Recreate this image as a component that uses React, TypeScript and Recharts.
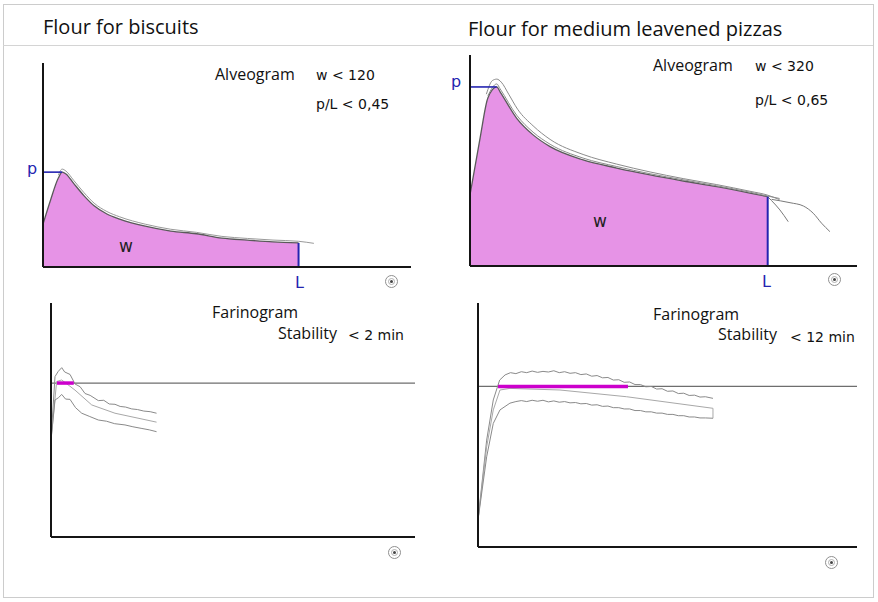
import React from "react";
import { ComposedChart, Area, Line, XAxis, YAxis, ReferenceLine } from "recharts";

// ---- Alveogram, flour for biscuits (x: mm, y: mm H2O) ----
const biscuitX = [0, 3, 6, 7.5, 9, 12, 16, 20, 25, 30, 40, 50, 60, 70, 80, 90, 100];
const biscuitCurve = [21, 33, 43.6, 46.5, 45.6, 41, 35, 30, 26, 23.5, 20, 17.6, 16.3, 14.2, 13.2, 12.3, 11.8];
const biscuitOuterX = [6, 7.5, 9, 12, 16, 20, 25, 30, 40, 50, 60, 70, 80, 90, 100, 106];
const biscuitOuter = [45, 48, 47, 42.5, 36.5, 31.3, 27.2, 24.6, 21, 18.5, 17, 15, 14, 13.2, 12.6, 11.6];
const biscuitP = 46.5;
const biscuitL = 100;

// ---- Alveogram, flour for medium leavened pizzas ----
const pizzaX = [0, 3.4, 6, 9, 10.1, 15.7, 21.2, 26.9, 38, 49.3, 60.5, 71.6, 82.9, 94, 100];
const pizzaCurve = [23.6, 42.5, 55.7, 59.4, 57.8, 49, 43.5, 39.6, 35.2, 32.5, 30.2, 28.2, 26.3, 24.2, 23];
const pizzaMidX = [6, 9, 10.1, 15.7, 21.2, 26.9, 38, 49.3, 60.5, 71.6, 82.9, 94, 100, 104];
const pizzaMid = [56.5, 60.4, 58.8, 50, 44.4, 40.4, 35.8, 33, 30.6, 28.6, 26.6, 24.5, 23.2, 22.4];
const pizzaOuterX = [5.5, 7.5, 9, 10.5, 13, 16, 21.2, 26.9, 38, 49.3, 60.5, 71.6, 82.9, 94, 100, 104];
const pizzaOuter = [57, 61.5, 62, 61, 57, 52, 46.5, 42, 37, 33.8, 31.2, 29, 27, 24.8, 23.5, 22];
const pizzaTail1X = [100, 101.3, 104.1, 106.9];
const pizzaTail1 = [23, 21.7, 18.6, 14.7];
const pizzaTail2X = [101.3, 107.5, 112, 115.3, 118.1, 120.9];
const pizzaTail2 = [22.1, 21, 19.9, 17.5, 14.2, 11.4];
const pizzaP = 59.4;
const pizzaL = 100;

// ---- Farinogram, biscuits (x: min, y: FU) ----
const farBisUpX = [0, 0.44, 0.8, 1.18, 1.5, 2.09, 2.64, 3.2, 3.74, 4.3, 5.2, 5.8, 6.4, 7.03, 7.6, 8.2, 8.87, 9.5, 10.2, 10.9, 11.6];
const farBisUp = [315, 521, 538, 550, 536, 528, 497, 488, 466, 460, 443, 444, 432, 431, 424, 422, 416, 414, 409, 407, 402];
const farBisMidX = [0, 0.62, 1.18, 2.64, 4.47, 7.03, 11.6];
const farBisMid = [315, 505, 510, 477, 429, 402, 373];
const farBisLowX = [0, 0.44, 0.8, 1.18, 1.6, 2.09, 2.7, 3.38, 4.2, 5.2, 6.1, 7.0, 8.13, 9.0, 9.9, 10.8, 11.6];
const farBisLow = [315, 445, 452, 463, 448, 447, 420, 402, 392, 380, 376, 368, 364, 358, 353, 348, 342];
const farBisStab = [0.66, 2.5];

// ---- Farinogram, pizzas ----
const farPizUpX = [0, 0.8, 1.41, 2.0, 2.5, 3.0, 3.5, 4.0, 4.5, 5.0, 5.5, 6.0, 6.5, 7.0, 7.5, 8.0, 8.5, 9.0, 9.5, 10, 10.5, 11, 11.5, 12, 12.5, 13, 13.5, 14, 14.5, 15, 15.5, 16, 16.5, 17, 17.5, 18, 18.5, 19, 19.5, 20, 20.5, 21, 21.7];
const farPizUp = [84, 333, 458, 520, 536, 543, 540, 546, 543, 548, 544, 547, 545, 549, 543, 546, 541, 543, 537, 539, 532, 534, 527, 528, 520, 521, 513, 514, 506, 506, 499, 500, 492, 493, 485, 486, 478, 479, 472, 473, 467, 468, 463];
const farPizMidX = [0, 0.8, 1.41, 2.03, 2.95, 7.57, 13.73, 21.7, 21.7];
const farPizMid = [84, 312, 427, 489, 494, 489, 468, 432, 401];
const farPizLowX = [0, 0.8, 1.41, 2.03, 2.95, 3.5, 4, 4.5, 5, 5.5, 6, 6.5, 7, 7.5, 8, 8.5, 9, 9.5, 10, 10.5, 11, 11.5, 12, 12.5, 13, 13.5, 14, 14.5, 15, 15.5, 16, 16.5, 17, 17.5, 18, 18.5, 19, 19.5, 20, 20.5, 21, 21.7];
const farPizLow = [84, 281, 385, 427, 448, 453, 456, 453, 457, 454, 457, 452, 455, 451, 453, 449, 450, 446, 447, 442, 443, 438, 439, 434, 434, 430, 430, 425, 425, 421, 421, 417, 417, 413, 413, 409, 409, 405, 405, 402, 402, 401];
const farPizStab = [1.85, 13.85];

const CONSISTENCY = 500;

const rows = (xs: number[], ys: number[]) => xs.map((x, i) => ({ x, y: ys[i] }));

const PINK = "#E693E6";
const BLUE = "#2424B0";
const MAGENTA = "#CC00CC";
const AXIS = "#151515";
const W = 878;
const H = 602;

function Layer({ children }: { children: React.ReactNode }) {
  return <div style={{ position: "absolute", left: 0, top: 0 }}>{children}</div>;
}

function Txt({ x, y, size, font, color, children }: any) {
  return (
    <div
      style={{
        position: "absolute",
        left: x,
        top: y,
        fontSize: size,
        lineHeight: 1,
        fontFamily: font || "'Open Sans', sans-serif",
        color: color || "#111",
        whiteSpace: "nowrap",
      }}
    >
      {children}
    </div>
  );
}

function Logo({ x, y }: { x: number; y: number }) {
  return (
    <div
      style={{
        position: "absolute",
        left: x - 7,
        top: y - 7,
        width: 13,
        height: 13,
        borderRadius: "50%",
        border: "1px solid #909090",
        boxSizing: "border-box",
        display: "flex",
        alignItems: "center",
        justifyContent: "center",
      }}
    >
      <div
        style={{
          width: 7,
          height: 7,
          borderRadius: "50%",
          border: "1px solid #b0b0b0",
          boxSizing: "border-box",
          display: "flex",
          alignItems: "center",
          justifyContent: "center",
        }}
      >
        <div style={{ width: 3, height: 3, borderRadius: "50%", background: "#444" }} />
      </div>
    </div>
  );
}

function Alveogram({ margin, xMax, yMax, xs, curve, lines, p, L }: any) {
  const data = rows(xs, curve);
  return (
    <Layer>
      <ComposedChart width={W} height={H} data={data} margin={margin}>
        <XAxis type="number" dataKey="x" domain={[0, xMax]} hide />
        <YAxis type="number" domain={[0, yMax]} hide />
        <Area
          type="monotone"
          dataKey="y"
          fill={PINK}
          fillOpacity={1}
          stroke="#5a5a5a"
          strokeWidth={1.3}
          isAnimationActive={false}
        />
        {lines.map((l: any, i: number) => (
          <Line
            key={i}
            data={l.data}
            type="monotone"
            dataKey="y"
            stroke={l.color}
            strokeWidth={1}
            dot={false}
            isAnimationActive={false}
          />
        ))}
        <ReferenceLine segment={[{ x: 0, y: p.y }, { x: p.x, y: p.y }]} stroke={BLUE} strokeWidth={1.6} />
        <ReferenceLine segment={[{ x: L.x, y: 0 }, { x: L.x, y: L.y }]} stroke={BLUE} strokeWidth={2} />
        <ReferenceLine x={0} stroke={AXIS} strokeWidth={2} />
        <ReferenceLine y={0} stroke={AXIS} strokeWidth={2} />
      </ComposedChart>
    </Layer>
  );
}

function Farinogram({ margin, xMax, yMax, up, mid, low, stab }: any) {
  return (
    <Layer>
      <ComposedChart width={W} height={H} data={mid} margin={margin}>
        <XAxis type="number" dataKey="x" domain={[0, xMax]} hide />
        <YAxis type="number" domain={[0, yMax]} hide />
        <ReferenceLine y={CONSISTENCY} stroke="#6e6e6e" strokeWidth={1.2} />
        <Line data={up} type="linear" dataKey="y" stroke="#8a8a8a" strokeWidth={1} dot={false} isAnimationActive={false} />
        <Line type="linear" dataKey="y" stroke="#a8a8a8" strokeWidth={1} dot={false} isAnimationActive={false} />
        <Line data={low} type="linear" dataKey="y" stroke="#8a8a8a" strokeWidth={1} dot={false} isAnimationActive={false} />
        <ReferenceLine
          segment={[{ x: stab[0], y: CONSISTENCY }, { x: stab[1], y: CONSISTENCY }]}
          stroke={MAGENTA}
          strokeWidth={3.5}
        />
        <ReferenceLine x={0} stroke={AXIS} strokeWidth={2} />
        <ReferenceLine y={0} stroke={AXIS} strokeWidth={2} />
      </ComposedChart>
    </Layer>
  );
}

export default function App() {
  const small = "'DejaVu Sans', sans-serif";
  return (
    <div style={{ position: "absolute", left: 0, top: 0, width: W, height: H, background: "#fff", overflow: "hidden" }}>
      <div style={{ position: "absolute", left: 3, top: 4, width: 869, height: 592, border: "1px solid #cccccc" }} />
      <div style={{ position: "absolute", left: 3, top: 45, width: 870, height: 1, background: "#d4d4d4" }} />

      <Txt x={43} y={17} size={20}>Flour for biscuits</Txt>
      <Txt x={468} y={19} size={20}>Flour for medium leavened pizzas</Txt>

      <Alveogram
        margin={{ top: 63, left: 43, right: W - 411, bottom: H - 267 }}
        xMax={144}
        yMax={100}
        xs={biscuitX}
        curve={biscuitCurve}
        lines={[{ data: rows(biscuitOuterX, biscuitOuter), color: "#9a9a9a" }]}
        p={{ x: 7.5, y: biscuitP }}
        L={{ x: biscuitL, y: biscuitCurve[biscuitCurve.length - 1] }}
      />
      <Alveogram
        margin={{ top: 55, left: 470, right: W - 857, bottom: H - 266 }}
        xMax={130}
        yMax={70}
        xs={pizzaX}
        curve={pizzaCurve}
        lines={[
          { data: rows(pizzaMidX, pizzaMid), color: "#8c8c8c" },
          { data: rows(pizzaOuterX, pizzaOuter), color: "#8c8c8c" },
          { data: rows(pizzaTail1X, pizzaTail1), color: "#7a7a7a" },
          { data: rows(pizzaTail2X, pizzaTail2), color: "#7a7a7a" },
        ]}
        p={{ x: 9, y: pizzaP }}
        L={{ x: pizzaL, y: pizzaCurve[pizzaCurve.length - 1] }}
      />
      <Farinogram
        margin={{ top: 303, left: 51, right: W - 415, bottom: H - 537 }}
        xMax={40}
        yMax={760}
        up={rows(farBisUpX, farBisUp)}
        mid={rows(farBisMidX, farBisMid)}
        low={rows(farBisLowX, farBisLow)}
        stab={farBisStab}
      />
      <Farinogram
        margin={{ top: 303, left: 478, right: W - 857, bottom: H - 547 }}
        xMax={35}
        yMax={760}
        up={rows(farPizUpX, farPizUp)}
        mid={rows(farPizMidX, farPizMid)}
        low={rows(farPizLowX, farPizLow)}
        stab={farPizStab}
      />

      {/* top-left labels */}
      <Txt x={215} y={66} size={16}>Alveogram</Txt>
      <Txt x={316} y={68} size={14} font={small}>w &lt; 120</Txt>
      <Txt x={316} y={97} size={14} font={small}>p/L &lt; 0,45</Txt>
      <Txt x={27} y={161} size={16} font={small} color={BLUE}>p</Txt>
      <Txt x={295} y={275} size={16} font={small} color={BLUE}>L</Txt>
      <Txt x={119} y={238} size={17} font={small} color="#222">w</Txt>

      {/* top-right labels */}
      <Txt x={653} y={57} size={16}>Alveogram</Txt>
      <Txt x={755} y={59} size={14} font={small}>w &lt; 320</Txt>
      <Txt x={755} y={93} size={14} font={small}>p/L &lt; 0,65</Txt>
      <Txt x={451} y={74} size={16} font={small} color={BLUE}>p</Txt>
      <Txt x={762} y={274} size={16} font={small} color={BLUE}>L</Txt>
      <Txt x={593} y={213} size={17} font={small} color="#222">w</Txt>

      {/* farinogram labels */}
      <Txt x={212} y={304} size={16}>Farinogram</Txt>
      <Txt x={278} y={325} size={16}>Stability</Txt>
      <Txt x={348} y={328} size={14} font={small}>&lt; 2 min</Txt>
      <Txt x={653} y={306} size={16}>Farinogram</Txt>
      <Txt x={718} y={326} size={16}>Stability</Txt>
      <Txt x={790} y={330} size={14} font={small}>&lt; 12 min</Txt>

      <Logo x={392} y={282} />
      <Logo x={835} y={280} />
      <Logo x={395} y={553} />
      <Logo x={832} y={563} />
    </div>
  );
}
